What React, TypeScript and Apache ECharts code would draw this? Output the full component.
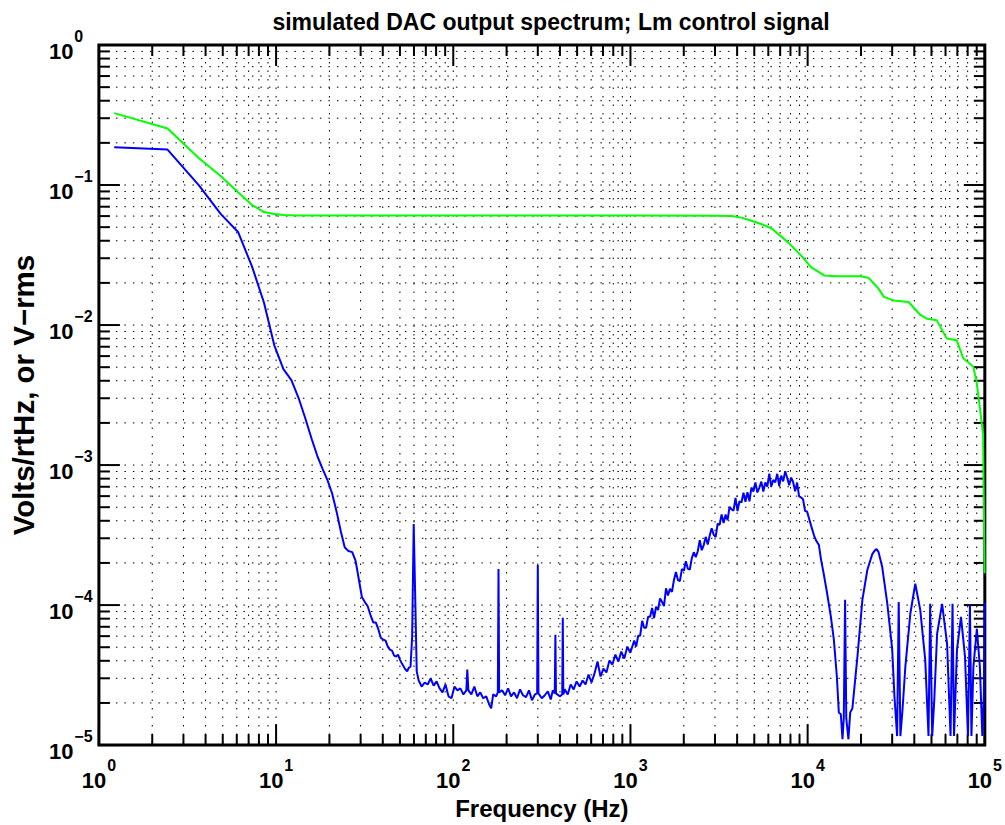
import React, { useEffect, useRef } from "react";
import * as echarts from "echarts";

const FONT = "'Liberation Sans', Arial, Helvetica, sans-serif";

const titleText = "simulated DAC output spectrum; Lm control signal";
const xAxisName = "Frequency (Hz)";
const yAxisName = "Volts/rtHz, or V\u2212rms";

// axis ranges / tick labels (decades)
const xDecades = [1, 10, 100, 1000, 10000, 100000];
const yDecades = [1e-5, 1e-4, 1e-3, 1e-2, 1e-1, 1];
const minorMultipliers = [2, 3, 4, 5, 6, 7, 8, 9];

// green trace: [frequency Hz, volts]
const greenTrace: [number, number][] = [
  [1.22, 0.326], [2.44, 0.253], [3.66, 0.156], [4.88, 0.1155], [6.1, 0.0889],
  [7.32, 0.0719], [8.54, 0.0641], [9.77, 0.062], [11.0, 0.061], [13.0, 0.0606],
  [20, 0.0605], [100, 0.0605], [1000, 0.0605], [3000, 0.0604], [3720, 0.06],
  [4230, 0.0585], [4820, 0.0556], [5500, 0.0525], [6240, 0.0491], [7730, 0.0391],
  [9180, 0.0314], [10450, 0.0259], [12400, 0.0226], [14500, 0.0223], [19900, 0.0223],
  [22000, 0.0218], [23650, 0.0198], [25120, 0.0182], [26900, 0.0159], [30600, 0.015],
  [37150, 0.0146], [43250, 0.0118], [47100, 0.0111], [53600, 0.0108], [61000, 0.0080],
  [69400, 0.0078], [75500, 0.0058], [86000, 0.00506], [89800, 0.00396], [93800, 0.00256],
  [97800, 0.00165], [99700, 0.000169],
];

// blue trace, low-frequency roll-off
const blueLow: [number, number][] = [
  [1.22, 0.186], [2.44, 0.179], [3.66, 0.0997], [4.88, 0.062], [6.1, 0.0462],
  [7.32, 0.0261], [8.54, 0.0145], [9.77, 0.00716], [11.0, 0.00484], [12.2, 0.00404],
  [13.4, 0.00301], [14.6, 0.00217], [15.9, 0.00153], [17.1, 0.00116], [18.3, 0.000938],
  [19.5, 0.000781], [20.7, 0.000629], [22.0, 0.000459], [23.2, 0.000335], [24.4, 0.000259],
  [25.6, 0.000243], [26.9, 0.000239], [28.1, 0.000207], [29.3, 0.000153], [30.5, 0.000114],
  [31.7, 0.000105], [32.9, 0.000098], [34.2, 0.000084], [35.4, 0.000075], [36.6, 0.000075],
  [37.8, 0.000067], [39.0, 0.0000585], [40.3, 0.0000566], [41.5, 0.0000557], [42.7, 0.0000505],
  [43.9, 0.0000481], [45.1, 0.0000473], [46.4, 0.0000436], [47.6, 0.0000429], [48.8, 0.0000443],
  [50.0, 0.0000408], [51.3, 0.0000382], [52.5, 0.0000364], [53.7, 0.0000347], [54.9, 0.0000336],
  [56.2, 0.0000358], [57.4, 0.0000364], [58.6, 0.0000594], [59.8, 0.00038], [61.0, 0.000114],
  [62.2, 0.0000336],
];

// blue trace, noise floor with mains harmonics
const blueFloor: [number, number][] = [
  [63.8, 2.89e-5], [66.3, 2.62e-5], [69.0, 2.8e-5], [71.7, 2.71e-5], [74.5, 2.99e-5],
  [77.5, 2.66e-5], [80.5, 2.85e-5], [83.7, 2.54e-5], [86.9, 2.38e-5], [90.4, 2.71e-5],
  [94.0, 2.23e-5], [97.7, 2.16e-5], [101.6, 2.62e-5], [105.6, 2.46e-5], [109.7, 2.54e-5],
  [114.1, 2.3e-5], [118.5, 2.46e-5], [120, 3.47e-5], [121.7, 2.46e-5], [126.5, 2.3e-5],
  [131.5, 2.62e-5], [136.7, 2.23e-5], [142.0, 2.38e-5], [147.6, 2.16e-5], [153.5, 2.23e-5],
  [159.5, 1.95e-5], [163.7, 1.83e-5], [168.0, 2.3e-5], [174.6, 2.23e-5], [178.5, 2.38e-5],
  [180, 1.81e-4], [181.5, 2.38e-5], [188.7, 2.46e-5], [196.2, 2.27e-5], [203.9, 2.54e-5],
  [211.9, 2.23e-5], [220.3, 2.38e-5], [229.0, 2.16e-5], [238.1, 2.5e-5], [247.5, 2.27e-5],
  [257.3, 2.2e-5], [267.5, 2.46e-5], [278.0, 2.09e-5], [289.0, 2.3e-5], [297.5, 2.34e-5],
  [300, 1.93e-4], [302.5, 2.34e-5], [316, 2.16e-5], [328.6, 2.27e-5], [341.6, 2.42e-5],
  [355, 2.12e-5], [364.5, 2.46e-5], [374, 2.34e-5], [377, 6.14e-5], [380, 2.34e-5],
  [398.8, 2.23e-5], [412, 2.3e-5], [415, 8.11e-5], [418, 2.3e-5], [425.6, 2.5e-5],
  [442.5, 2.3e-5], [460, 2.71e-5], [478, 2.5e-5], [497, 2.85e-5], [516.6, 2.62e-5],
  [537, 2.89e-5], [558, 2.71e-5], [580, 3.19e-5], [603, 2.8e-5], [627, 3.25e-5],
  [652, 3.95e-5], [677.5, 3.09e-5], [704, 3.52e-5], [732, 3.3e-5], [761, 4.02e-5],
  [791, 3.76e-5], [822, 4.43e-5], [855, 3.95e-5], [888, 4.65e-5], [923, 4.15e-5],
  [960, 5.05e-5], [998, 4.57e-5],
];

// blue trace, shaped-noise hump
const blueHump: [number, number][] = [
  [1050, 5.57e-5], [1077.5, 5.05e-5], [1105.7, 6.04e-5], [1134.6, 6.04e-5], [1164.3, 7.72e-5],
  [1194.7, 6.89e-5], [1226, 6.89e-5], [1258.1, 8.25e-5], [1291, 8.25e-5], [1324.7, 9.55e-5],
  [1359.4, 8.06e-5], [1394.9, 9.74e-5], [1431.4, 9.22e-5], [1468.8, 1.114e-4], [1507.2, 1.054e-4],
  [1546.6, 9.84e-5], [1587.1, 1.316e-4], [1628.6, 1.17e-4], [1671.2, 1.308e-4], [1714.9, 1.241e-4],
  [1759.7, 1.51e-4], [1805.7, 1.721e-4], [1853, 1.51e-4], [1901.4, 1.485e-4], [1951.1, 1.807e-4],
  [2002.1, 1.761e-4], [2054.5, 2.054e-4], [2108.2, 1.814e-4], [2163.4, 1.796e-4], [2220, 2.163e-4],
  [2278, 2.386e-4], [2337.6, 2.199e-4], [2398.7, 2.425e-4], [2461.4, 2.904e-4], [2525.8, 2.466e-4],
  [2591.9, 2.685e-4], [2659.7, 3.07e-4], [2729.2, 2.703e-4], [2800.6, 3.142e-4], [2873.8, 3.534e-4],
  [2949, 3.183e-4], [3026.1, 3.06e-4], [3105.3, 3.823e-4], [3186.5, 3.736e-4], [3269.8, 4.443e-4],
  [3355.3, 3.86e-4], [3443.1, 4.429e-4], [3533.1, 4.041e-4], [3625.5, 5.03e-4], [3720.3, 4.821e-4],
  [3817.6, 4.728e-4], [3917.5, 5.829e-4], [4019.9, 4.697e-4], [4125, 5.514e-4], [4232.9, 5.407e-4],
  [4343.6, 6.347e-4], [4457.2, 5.46e-4], [4573.8, 6.409e-4], [4693.4, 5.514e-4], [4816.1, 6.911e-4],
  [4942.1, 6.471e-4], [5071.3, 7.499e-4], [5203.9, 6.368e-4], [5340, 6.911e-4], [5479.7, 7.622e-4],
  [5623, 6.471e-4], [5770.1, 7.499e-4], [5921, 7.024e-4], [6075.8, 8.689e-4], [6234.7, 7.024e-4],
  [6397.8, 7.824e-4], [6565.1, 7.522e-4], [6736.8, 8.661e-4], [6913, 7.07e-4], [7093.8, 8.408e-4],
  [7279.3, 7.646e-4], [7469.7, 9.036e-4], [7665, 8.11e-4], [7865.5, 7.186e-4], [8071.2, 8.137e-4],
  [8282.3, 7.572e-4], [8498.9, 6.494e-4], [8721.2, 7.499e-4], [8949.3, 5.965e-4], [9183.3, 5.868e-4],
  [9423.5, 5.698e-4], [9669.9, 4.697e-4], [9922.8, 4.667e-4],
];

// blue trace, high-frequency lobes and nulls
const blueLobes: [number, number][] = [
  [10450, 3.71e-4], [10860, 3.15e-4], [11150, 2.9e-4], [11580, 2.68e-4], [11890, 2.13e-4],
  [12360, 1.64e-4], [12845, 1.24e-4], [13530, 8.24e-5], [14060, 5.66e-5], [14620, 3.09e-5],
  [15000, 1.71e-5], [15390, 1.66e-5], [15730, 1.1e-5], [15995, 1.56e-5], [16270, 1.09e-4],
  [16520, 1.56e-5], [16990, 1.1e-5], [17390, 1.71e-5], [17890, 1.83e-5], [19100, 4.29e-5],
  [20370, 1.09e-4], [21720, 1.78e-4], [23170, 2.31e-4], [23900, 2.45e-4], [24490, 2.51e-4],
  [25100, 2.4e-4], [26360, 1.87e-4], [28120, 1.04e-4], [29990, 4.89e-5], [30900, 2.23e-5],
  [31990, 1.16e-5], [32660, 1.05e-4], [33380, 1.16e-5], [34250, 1.73e-5], [35610, 3.64e-5],
  [37980, 8.67e-5], [40510, 1.42e-4], [43210, 9.25e-5], [46090, 4.08e-5], [48110, 1.16e-5],
  [49170, 1.02e-4], [50460, 1.16e-5], [51800, 2.05e-5], [53800, 6.24e-5], [57410, 1.02e-4],
  [61230, 5.3e-5], [64060, 1.16e-5], [65740, 1.02e-4], [67030, 1.16e-5], [69660, 4.81e-5],
  [73370, 8.24e-5], [77290, 4.29e-5], [80330, 1.16e-5], [82430, 1.0e-4], [84040, 1.16e-5],
  [86230, 3.64e-5], [90180, 6.78e-5], [93750, 3.64e-5], [96830, 1.16e-5], [98720, 2.23e-5],
  [99900, 1.04e-4],
];

const X_MIN = xDecades[0];
const X_MAX = xDecades[xDecades.length - 1];
const Y_MIN = yDecades[0];
const Y_MAX = yDecades[yDecades.length - 1];

function withMinors(decades: number[]): number[] {
  const out: number[] = [];
  decades.forEach((d, i) => {
    out.push(d);
    if (i < decades.length - 1) minorMultipliers.forEach((m) => out.push(d * m));
  });
  return out;
}

const xTickValues = withMinors(xDecades);
const yTickValues = withMinors(yDecades);

function isDecade(v: number): boolean {
  const l = Math.log10(v);
  return Math.abs(l - Math.round(l)) < 1e-9;
}

function expLabel(v: number): string {
  const e = Math.round(Math.log10(v));
  const s = e < 0 ? "\u2212" + String(-e) : String(e);
  return "{b|10}{s|" + s + "}";
}

const labelRich = {
  b: { fontFamily: FONT, fontWeight: "bold", fontSize: 22, lineHeight: 34, verticalAlign: "bottom", color: "#000" },
  s: { fontFamily: FONT, fontWeight: "bold", fontSize: 16, lineHeight: 16, verticalAlign: "top", color: "#000", padding: [0, 0, 0, 1] },
};

const GRID_DASH = [1.5, 7];
const MAJOR_LEN = 21;
const MINOR_LEN = 11;

export default function App() {
  const ref = useRef<HTMLDivElement>(null);

  useEffect(() => {
    if (!ref.current) return;
    const chart = echarts.init(ref.current, null, { renderer: "svg" });

    const xGridSeries = {
      type: "custom",
      silent: true,
      z: 1,
      clip: false,
      data: xTickValues.map((v) => [v, Y_MAX]),
      renderItem: (params: any, api: any) => {
        const v = api.value(0);
        const cs = params.coordSys;
        const px = api.coord([v, Y_MAX])[0];
        const top = cs.y;
        const bottom = cs.y + cs.height;
        const len = isDecade(v) ? MAJOR_LEN : MINOR_LEN;
        const children: any[] = [];
        if (v > X_MIN && v < X_MAX) {
          children.push({
            type: "line",
            shape: { x1: px, y1: top, x2: px, y2: bottom },
            style: { stroke: "#000", lineWidth: 1, lineDash: GRID_DASH },
          });
        }
        children.push({ type: "line", shape: { x1: px, y1: bottom, x2: px, y2: bottom - len }, style: { stroke: "#000", lineWidth: 2 } });
        children.push({ type: "line", shape: { x1: px, y1: top, x2: px, y2: top + len }, style: { stroke: "#000", lineWidth: 2 } });
        return { type: "group", children };
      },
    };

    const yGridSeries = {
      type: "custom",
      silent: true,
      z: 1,
      clip: false,
      data: yTickValues.map((v) => [X_MAX, v]),
      renderItem: (params: any, api: any) => {
        const v = api.value(1);
        const cs = params.coordSys;
        const py = api.coord([X_MAX, v])[1];
        const left = cs.x;
        const right = cs.x + cs.width;
        const len = isDecade(v) ? MAJOR_LEN : MINOR_LEN;
        const children: any[] = [];
        if (v > Y_MIN && v < Y_MAX) {
          children.push({
            type: "line",
            shape: { x1: left, y1: py, x2: right, y2: py },
            style: { stroke: "#000", lineWidth: 1, lineDash: GRID_DASH },
          });
        }
        children.push({ type: "line", shape: { x1: left, y1: py, x2: left + len, y2: py }, style: { stroke: "#000", lineWidth: 2 } });
        children.push({ type: "line", shape: { x1: right, y1: py, x2: right - len, y2: py }, style: { stroke: "#000", lineWidth: 2 } });
        return { type: "group", children };
      },
    };

    const blueTrace = ([] as [number, number][]).concat(blueLow, blueFloor, blueHump, blueLobes);

    const option: any = {
      animation: false,
      backgroundColor: "#fff",
      title: {
        text: titleText,
        left: 546,
        top: 5,
        textAlign: "center",
        textStyle: { fontFamily: FONT, fontWeight: "bold", fontSize: 23, color: "#000" },
      },
      grid: {
        left: 93,
        right: 20,
        top: 45,
        bottom: 76,
        show: true,
        borderColor: "#000",
        borderWidth: 3,
        backgroundColor: "transparent",
      },
      xAxis: {
        type: "log",
        logBase: 10,
        min: X_MIN,
        max: X_MAX,
        splitNumber: 5,
        name: xAxisName,
        nameLocation: "middle",
        nameGap: 36,
        nameTextStyle: { fontFamily: FONT, fontWeight: "bold", fontSize: 24, color: "#000" },
        axisLine: { show: false },
        axisTick: { show: false },
        splitLine: { show: false },
        minorTick: { show: false },
        axisLabel: { margin: 12, formatter: expLabel, rich: labelRich, showMinLabel: true, showMaxLabel: true },
      },
      yAxis: {
        type: "log",
        logBase: 10,
        min: Y_MIN,
        max: Y_MAX,
        splitNumber: 5,
        name: yAxisName,
        nameLocation: "middle",
        nameGap: 58,
        nameTextStyle: { fontFamily: FONT, fontWeight: "bold", fontSize: 29.5, color: "#000" },
        axisLine: { show: false },
        axisTick: { show: false },
        splitLine: { show: false },
        minorTick: { show: false },
        axisLabel: { margin: 50, align: "left", formatter: expLabel, rich: labelRich, showMinLabel: true, showMaxLabel: true },
      },
      series: [
        xGridSeries,
        yGridSeries,
        {
          name: "green",
          type: "line",
          z: 3,
          data: greenTrace,
          showSymbol: false,
          symbol: "none",
          lineStyle: { color: "#00ff00", width: 2 },
          itemStyle: { color: "#00ff00" },
        },
        {
          name: "blue",
          type: "line",
          z: 4,
          data: blueTrace,
          showSymbol: false,
          symbol: "none",
          lineStyle: { color: "#0000ff", width: 2 },
          itemStyle: { color: "#0000ff" },
        },
      ],
    };

    chart.setOption(option);
    return () => chart.dispose();
  }, []);

  return (
    <div
      ref={ref}
      style={{ position: "fixed", left: 0, top: 0, width: 1005, height: 825, background: "#fff" }}
    />
  );
}
